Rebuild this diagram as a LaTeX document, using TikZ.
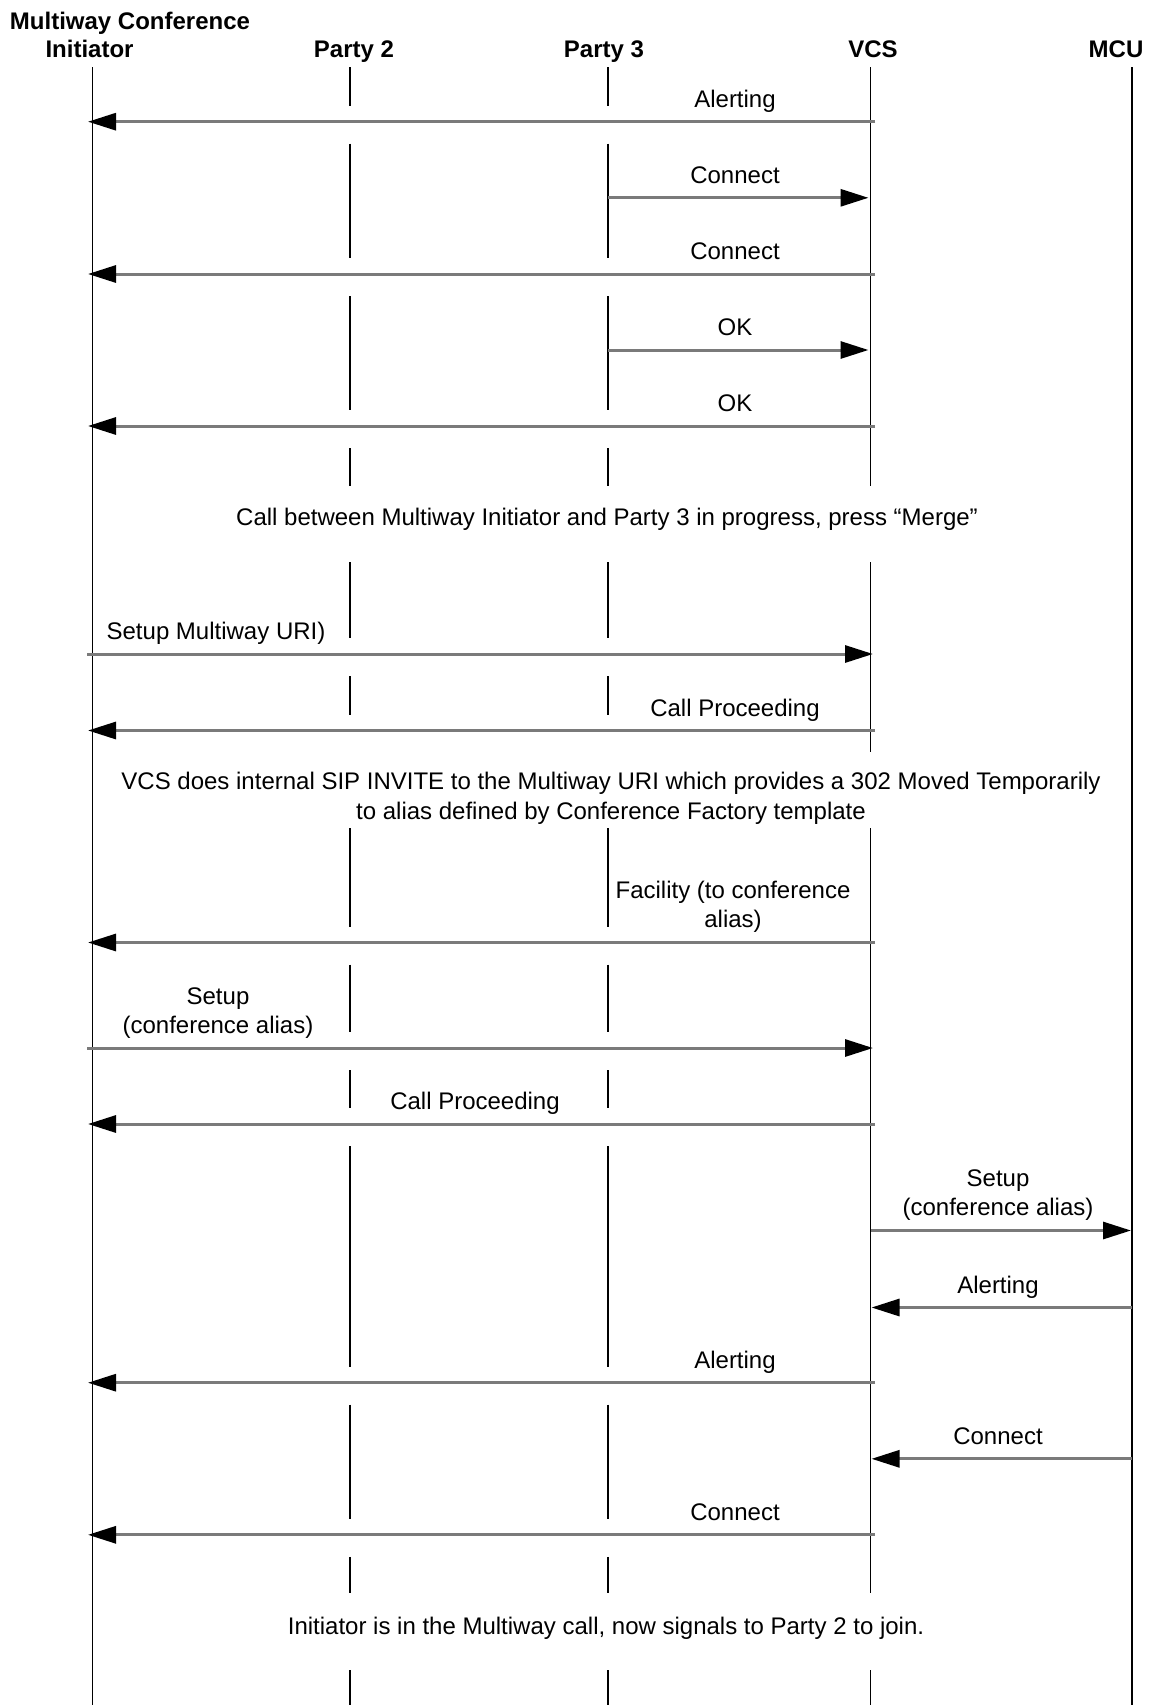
\documentclass[tikz,border=0pt]{standalone}
\usepackage{fontspec}
\setmainfont{Liberation Sans}
\usetikzlibrary{arrows.meta}
\begin{document}
\begin{tikzpicture}[x=1pt,y=-1pt,
  life/.style={line width=1.6pt, black},
  msg/.style={line width=3pt, draw=black!52, -{Triangle[length=28pt,width=17pt,color=black]}},
  lbl/.style={anchor=base, inner sep=0pt, font=\fontsize{24}{29}\selectfont},
  hdr/.style={anchor=base, inner sep=0pt, font=\fontsize{24}{29}\selectfont\bfseries}]
\def\xI{92.5}\def\xP{350}\def\xQ{608}\def\xV{870.5}\def\xM{1132}
\fill[white] (0,0) rectangle (1150,1705);
\path[use as bounding box] (0,0) rectangle (1150,1705);
% headers
\node[hdr] (hm) at (130,29) {Multiway Conference};
\node[hdr] (hi) at (89.5,57) {Initiator};
\node[hdr] (hp2) at (354,57) {Party 2};
\node[hdr] (hp3) at (604,57) {Party 3};
\node[hdr] (hv) at (873,57) {VCS};
\node[hdr] (hmcu) at (1116,57) {MCU};
% lifelines
\draw[life] (\xI,67.4) -- (\xI,1705);
\draw[life] (\xM,67.4) -- (\xM,1705);
\foreach \a/\b in {67.4/486, 562/752, 828/1593, 1670/1705}
  {\draw[life] (\xV,\a) -- (\xV,\b);}
\foreach \a/\b in {67.4/105.7, 143.7/258, 296/410, 448/486, 562/638, 676/714.5,
  828/926.5, 964.5/1032, 1070/1108, 1146/1366.7, 1404.7/1518.8, 1556.8/1593, 1670/1705}
  {\draw[life] (\xP,\a) -- (\xP,\b); \draw[life] (\xQ,\a) -- (\xQ,\b);}
% message end points
\coordinate (a1s) at (\xV+4.5,121.7);  \coordinate (a1e) at (\xI-4.5,121.7);
\coordinate (a2s) at (\xQ,197.8);      \coordinate (a2e) at (\xV-2,197.8);
\coordinate (a3s) at (\xV+4.5,274);    \coordinate (a3e) at (\xI-4.5,274);
\coordinate (a4s) at (\xQ,350);        \coordinate (a4e) at (\xV-2,350);
\coordinate (a5s) at (\xV+4.5,426);    \coordinate (a5e) at (\xI-4.5,426);
\coordinate (a6s) at (\xI-5.5,654);    \coordinate (a6e) at (\xV+2.5,654);
\coordinate (a7s) at (\xV+4.5,730.5);  \coordinate (a7e) at (\xI-4.5,730.5);
\coordinate (a8s) at (\xV+4.5,942.5);  \coordinate (a8e) at (\xI-4.5,942.5);
\coordinate (a9s) at (\xI-5.5,1048);   \coordinate (a9e) at (\xV+2.5,1048);
\coordinate (a10s) at (\xV+4.5,1124);  \coordinate (a10e) at (\xI-4.5,1124);
\coordinate (a11s) at (\xV,1230.5);    \coordinate (a11e) at (\xM-1,1230.5);
\coordinate (a12s) at (\xM,1307.5);    \coordinate (a12e) at (\xV+1,1307.5);
\coordinate (a13s) at (\xV+4.5,1382.7);\coordinate (a13e) at (\xI-4.5,1382.7);
\coordinate (a14s) at (\xM,1458.8);    \coordinate (a14e) at (\xV+1,1458.8);
\coordinate (a15s) at (\xV+4.5,1534.8);\coordinate (a15e) at (\xI-4.5,1534.8);
\foreach \n in {1,...,15} {\draw[msg] (a\n s) -- (a\n e);}
% labels
\node[lbl] (l1) at (735,107.2) {Alerting};
\node[lbl] (l2) at (735,183.3) {Connect};
\node[lbl] (l3) at (735,259.5) {Connect};
\node[lbl] (l4) at (735,335.5) {OK};
\node[lbl] (l5) at (735,411.5) {OK};
\node[lbl] (l6) at (216,639.5) {Setup Multiway URI)};
\node[lbl] (l7) at (735,716) {Call Proceeding};
\node[lbl] (l8a) at (733,898.5) {Facility (to conference};
\node[lbl] (l8b) at (733,927.5) {alias)};
\node[lbl] (l9a) at (218,1004.5) {Setup};
\node[lbl] (l9b) at (218,1033.5) {(conference alias)};
\node[lbl] (l10) at (475,1109.5) {Call Proceeding};
\node[lbl] (l11a) at (998,1186.5) {Setup};
\node[lbl] (l11b) at (998,1215.5) {(conference alias)};
\node[lbl] (l12) at (998,1293) {Alerting};
\node[lbl] (l13) at (735,1368.2) {Alerting};
\node[lbl] (l14) at (998,1444.3) {Connect};
\node[lbl] (l15) at (735,1520.3) {Connect};
% notes
\node[lbl] (t1) at (607,525) {Call between Multiway Initiator and Party 3 in progress, press “Merge”};
\node[lbl] (t2a) at (611,789) {VCS does internal SIP INVITE to the Multiway URI which provides a 302 Moved Temporarily};
\node[lbl] (t2b) at (611,819.5) {to alias defined by Conference Factory template};
\node[lbl] (t3) at (606,1634) {Initiator is in the Multiway call, now signals to Party 2 to join.};
\end{tikzpicture}
\end{document}
